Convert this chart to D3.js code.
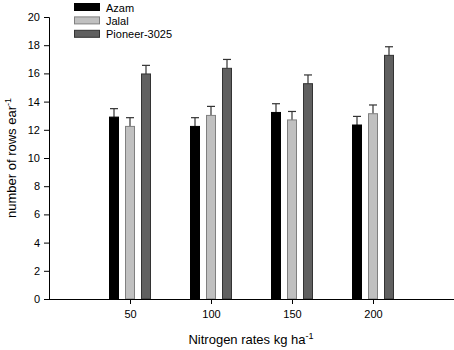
<!DOCTYPE html>
<html>
<head>
<meta charset="utf-8">
<script src="https://cdn.jsdelivr.net/npm/d3@7"></script>
<style>
  body { margin: 0; background: #fff; }
  text { font-family: "Liberation Sans", Arial, sans-serif; }
</style>
</head>
<body>
<div id="chart"></div>
<script>
// Data
const rates = [50, 100, 150, 200];
const series = ["Azam", "Jalal", "Pioneer-3025"];
const azam = [12.9, 12.24, 13.23, 12.34];
const jalal = [12.24, 13.02, 12.7, 13.14];
const pioneer = [15.96, 16.36, 15.27, 17.28];
const azamErr = [0.6, 0.62, 0.62, 0.61];
const jalalErr = [0.62, 0.64, 0.6, 0.62];
const pioneerErr = [0.61, 0.63, 0.62, 0.61];
const yTicks = [0, 2, 4, 6, 8, 10, 12, 14, 16, 18, 20];

const fills = { "Azam": "#000000", "Jalal": "#c0c0c0", "Pioneer-3025": "#606060" };
const strokes = { "Azam": "#000000", "Jalal": "#808080", "Pioneer-3025": "#333333" };

const W = 454, H = 350;
const svg = d3.select("#chart").append("svg")
    .attr("width", W)
    .attr("height", H);

// Scales
const x = d3.scaleLinear().domain([0, 250]).range([49, 454]);
const xs = d3.scaleBand().domain(series).range([-24, 24])
    .paddingInner(0.375).paddingOuter(0.1875);
const y = d3.scaleLinear().domain([0, 20]).range([299, 17]);

// build rows
const vals = [azam, jalal, pioneer];
const errs = [azamErr, jalalErr, pioneerErr];
const rows = [];
rates.forEach((r, i) => {
    series.forEach((s, j) => {
        rows.push({ rate: r, series: s, value: vals[j][i], err: errs[j][i] });
    });
});

// Error bars (drawn behind bars)
const eb = svg.append("g").attr("stroke", "#333").attr("stroke-width", 1.2);
rows.forEach(d => {
    const cx = x(d.rate) + xs(d.series) + xs.bandwidth() / 2;
    eb.append("line")
        .attr("x1", cx).attr("x2", cx)
        .attr("y1", y(d.value)).attr("y2", y(d.value + d.err));
    eb.append("line")
        .attr("x1", cx - 4).attr("x2", cx + 4)
        .attr("y1", y(d.value + d.err)).attr("y2", y(d.value + d.err));
});

// Bars
svg.append("g").selectAll("rect")
    .data(rows)
    .join("rect")
    .attr("x", d => x(d.rate) + xs(d.series) + 0.5)
    .attr("y", d => y(d.value))
    .attr("width", xs.bandwidth() - 1)
    .attr("height", d => y(0) - y(d.value))
    .attr("fill", d => fills[d.series])
    .attr("stroke", d => strokes[d.series])
    .attr("stroke-width", 1);

// Axes
const yAxis = svg.append("g")
    .attr("transform", "translate(49,0)")
    .call(d3.axisLeft(y).tickValues(yTicks).tickSize(5).tickPadding(4));
const xAxis = svg.append("g")
    .attr("transform", `translate(0,${y(0)})`)
    .call(d3.axisBottom(x).tickValues(rates).tickSize(5).tickPadding(6));

[yAxis, xAxis].forEach(a => {
    a.select(".domain").attr("stroke", "#000");
    a.selectAll(".tick line").attr("stroke", "#000");
    a.selectAll("text")
        .attr("fill", "#000")
        .style("font-family", '"Liberation Sans", Arial, sans-serif')
        .style("font-size", "11px");
});
xAxis.select(".domain").attr("d", `M49,0.5H454`);

// Axis labels
const xl = svg.append("text")
    .attr("x", 251)
    .attr("y", 344)
    .attr("text-anchor", "middle")
    .style("font-size", "13px");
xl.append("tspan").text("Nitrogen rates kg ha");
xl.append("tspan").attr("dy", -5).style("font-size", "9px").text("-1");

const yl = svg.append("text")
    .attr("transform", "translate(16,158) rotate(-90)")
    .attr("text-anchor", "middle")
    .style("font-size", "13px");
yl.append("tspan").text("number of rows ear");
yl.append("tspan").attr("dy", -5).style("font-size", "9px").text("-1");

// Legend
const legend = svg.append("g").attr("transform", "translate(74,3)");
const li = legend.selectAll("g")
    .data(series)
    .join("g")
    .attr("transform", (d, i) => `translate(0,${i * 13.4})`);
li.append("rect")
    .attr("x", 0.5).attr("y", 0.5)
    .attr("width", 25).attr("height", 7)
    .attr("fill", d => fills[d])
    .attr("stroke", d => strokes[d]);
li.append("text")
    .attr("x", 32)
    .attr("y", 8.5)
    .style("font-size", "11px")
    .text(d => d);
</script>
</body>
</html>
